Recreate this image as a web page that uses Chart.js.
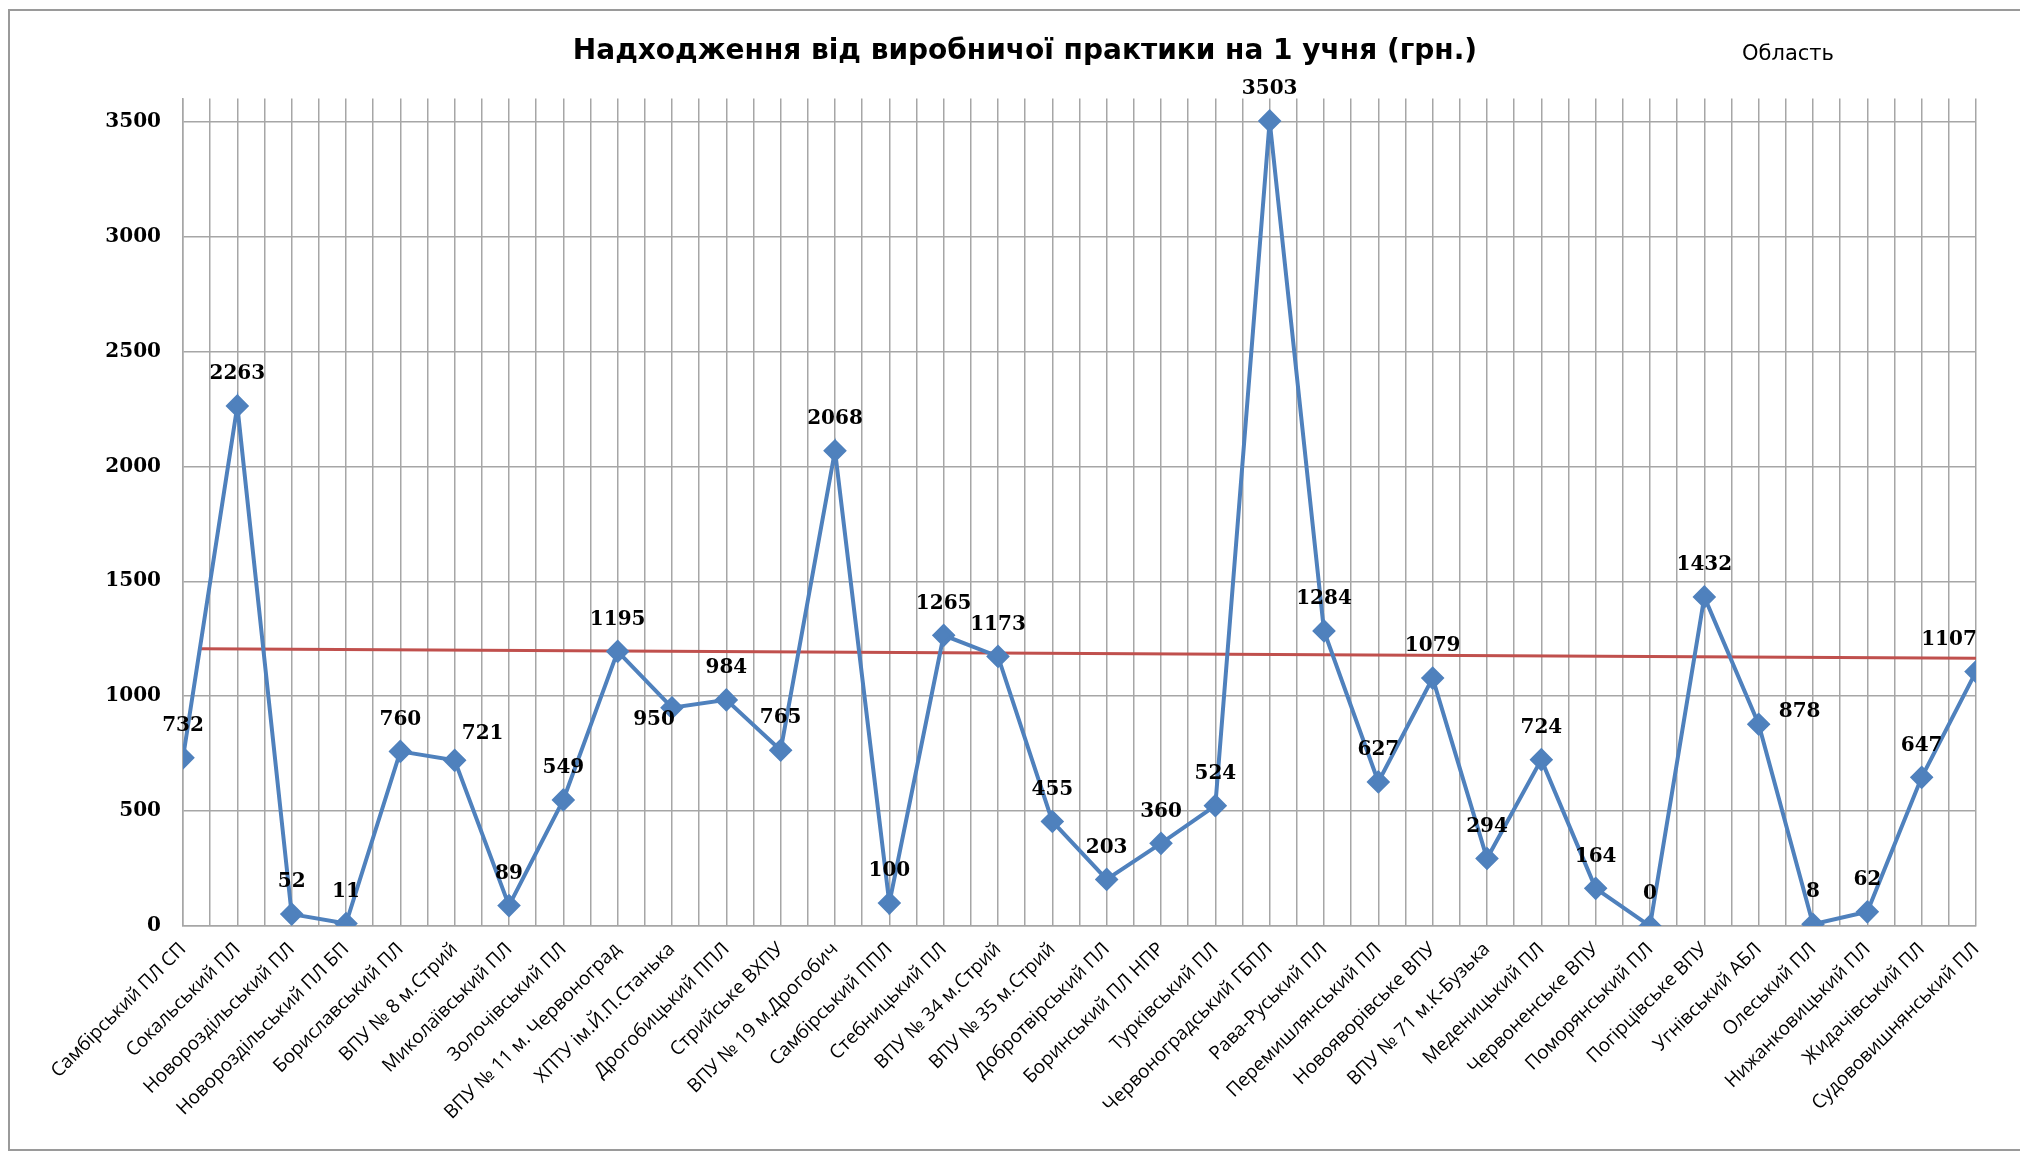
<!DOCTYPE html>
<html>
<head>
<meta charset="utf-8">
<script src="https://cdn.jsdelivr.net/npm/chart.js@4.4.0/dist/chart.umd.min.js"></script>
<style>
  html, body { margin: 0; padding: 0; background: #fff; }
  #wrap { position: relative; width: 2020px; height: 1154px; }
</style>
</head>
<body>
<div id="wrap"><canvas id="chart" width="2020" height="1154"></canvas></div>
<script>
const categories = [
  "Самбірський ПЛ СП", "Сокальський ПЛ", "Новороздільський ПЛ", "Новороздільський ПЛ БП",
  "Бориславський ПЛ", "ВПУ № 8 м.Стрий", "Миколаївський ПЛ", "Золочівський ПЛ",
  "ВПУ № 11 м. Червоноград", "ХПТУ ім.Й.П.Станька", "Дрогобицький ППЛ", "Стрийське ВХПУ",
  "ВПУ № 19 м.Дрогобич", "Самбірський ППЛ", "Стебницький ПЛ", "ВПУ № 34 м.Стрий",
  "ВПУ № 35 м.Стрий", "Добротвірський ПЛ", "Боринський ПЛ НПР", "Турківський ПЛ",
  "Червоноградський ГБПЛ", "Рава-Руський ПЛ", "Перемишлянський ПЛ", "Новояворівське ВПУ",
  "ВПУ № 71 м.К-Бузька", "Меденицький ПЛ", "Червоненське ВПУ", "Поморянський ПЛ",
  "Погірцівське ВПУ", "Угнівський АБЛ", "Олеський ПЛ", "Нижанковицький ПЛ",
  "Жидачівський ПЛ", "Судововишнянський ПЛ"
];
const values = [
  732, 2263, 52, 11, 760, 721, 89, 549, 1195, 950, 984, 765, 2068, 100, 1265, 1173, 455,
  203, 360, 524, 3503, 1284, 627, 1079, 294, 724, 164, 0, 1432, 878, 8, 62, 647, 1107
];
// "Область" line: two end points (category position, value)
const oblastX = [0.3, 33.2];
const oblastY = [1207, 1165];
const yTicks = [0, 500, 1000, 1500, 2000, 2500, 3000, 3500];

const blue = "#4F81BD";
const red = "#C0504D";
const gridColor = "#A6A6A6";

// label nudges for a few points, the rest sit straight above the marker
const labelShift = { 5: [28, -27], 9: [-18, 12], 29: [41, -12], 33: [-27, -32] };

const framePlugin = {
  id: "frame",
  beforeDraw(chart) {
    const ctx = chart.ctx;
    ctx.save();
    ctx.fillStyle = "#fff";
    ctx.fillRect(0, 0, chart.width, chart.height);
    ctx.strokeStyle = "#9a9a9a";
    ctx.lineWidth = 2;
    ctx.strokeRect(9, 10, 2100, 1140);
    ctx.restore();
  },
  afterDraw(chart) {
    const ctx = chart.ctx;
    ctx.save();
    ctx.fillStyle = "#000";
    ctx.font = "21px 'DejaVu Sans'";
    ctx.textAlign = "left";
    ctx.textBaseline = "middle";
    ctx.fillText(chart.data.datasets[1].label, 1742, 55);
    ctx.restore();
  }
};

const valueLabels = {
  id: "valueLabels",
  afterDatasetsDraw(chart) {
    const ctx = chart.ctx;
    const meta = chart.getDatasetMeta(0);
    ctx.save();
    ctx.fillStyle = "#000";
    ctx.font = "bold 20px 'DejaVu Serif'";
    ctx.textAlign = "center";
    ctx.textBaseline = "middle";
    meta.data.forEach((pt, i) => {
      const s = labelShift[i] || [0, -32];
      ctx.fillText(String(values[i]), pt.x + s[0], pt.y + s[1]);
    });
    ctx.restore();
  }
};

new Chart(document.getElementById("chart"), {
  type: "line",
  data: {
    datasets: [{
      label: "Надходження",
      data: values.map((v, i) => ({ x: i, y: v })),
      borderColor: blue,
      backgroundColor: blue,
      borderWidth: 4,
      pointStyle: "rectRot",
      pointRadius: 9,
      pointHoverRadius: 9,
      pointBackgroundColor: blue,
      pointBorderColor: blue,
      tension: 0,
      order: 1
    }, {
      label: "Область",
      data: oblastX.map((x, i) => ({ x: x, y: oblastY[i] })),
      borderColor: red,
      borderWidth: 3,
      pointRadius: 0,
      tension: 0,
      order: 2
    }]
  },
  options: {
    responsive: false,
    animation: false,
    layout: { padding: { left: 74, right: 44, top: 0, bottom: 18 } },
    plugins: {
      legend: { display: false },
      tooltip: { enabled: false },
      title: {
        display: true,
        text: "Надходження від виробничої практики на 1 учня (грн.)",
        color: "#000",
        font: { family: "'DejaVu Sans'", size: 28, weight: "bold" },
        padding: { top: 35, bottom: 30 }
      }
    },
    scales: {
      x: {
        type: "linear",
        min: 0,
        max: categories.length - 1,
        grid: { color: gridColor, lineWidth: 1.5, drawTicks: false },
        border: { color: gridColor, width: 1.5 },
        ticks: {
          stepSize: 0.5,
          autoSkip: false,
          minRotation: 45,
          maxRotation: 45,
          padding: 12,
          color: "#000",
          font: { family: "'Open Sans'", size: 19 },
          callback: v => Number.isInteger(v) ? categories[v] : ""
        }
      },
      y: {
        min: 0,
        max: 3600,
        afterBuildTicks: scale => { scale.ticks = yTicks.map(v => ({ value: v })); },
        afterFit: scale => { scale.width = 109; },
        grid: { color: gridColor, lineWidth: 1.5, drawTicks: false },
        border: { color: gridColor, width: 1.5 },
        ticks: {
          padding: 22,
          color: "#000",
          font: { family: "'DejaVu Serif'", size: 20, weight: "bold" },
          callback: v => String(v)
        }
      }
    }
  },
  plugins: [framePlugin, valueLabels]
});
</script>
</body>
</html>
